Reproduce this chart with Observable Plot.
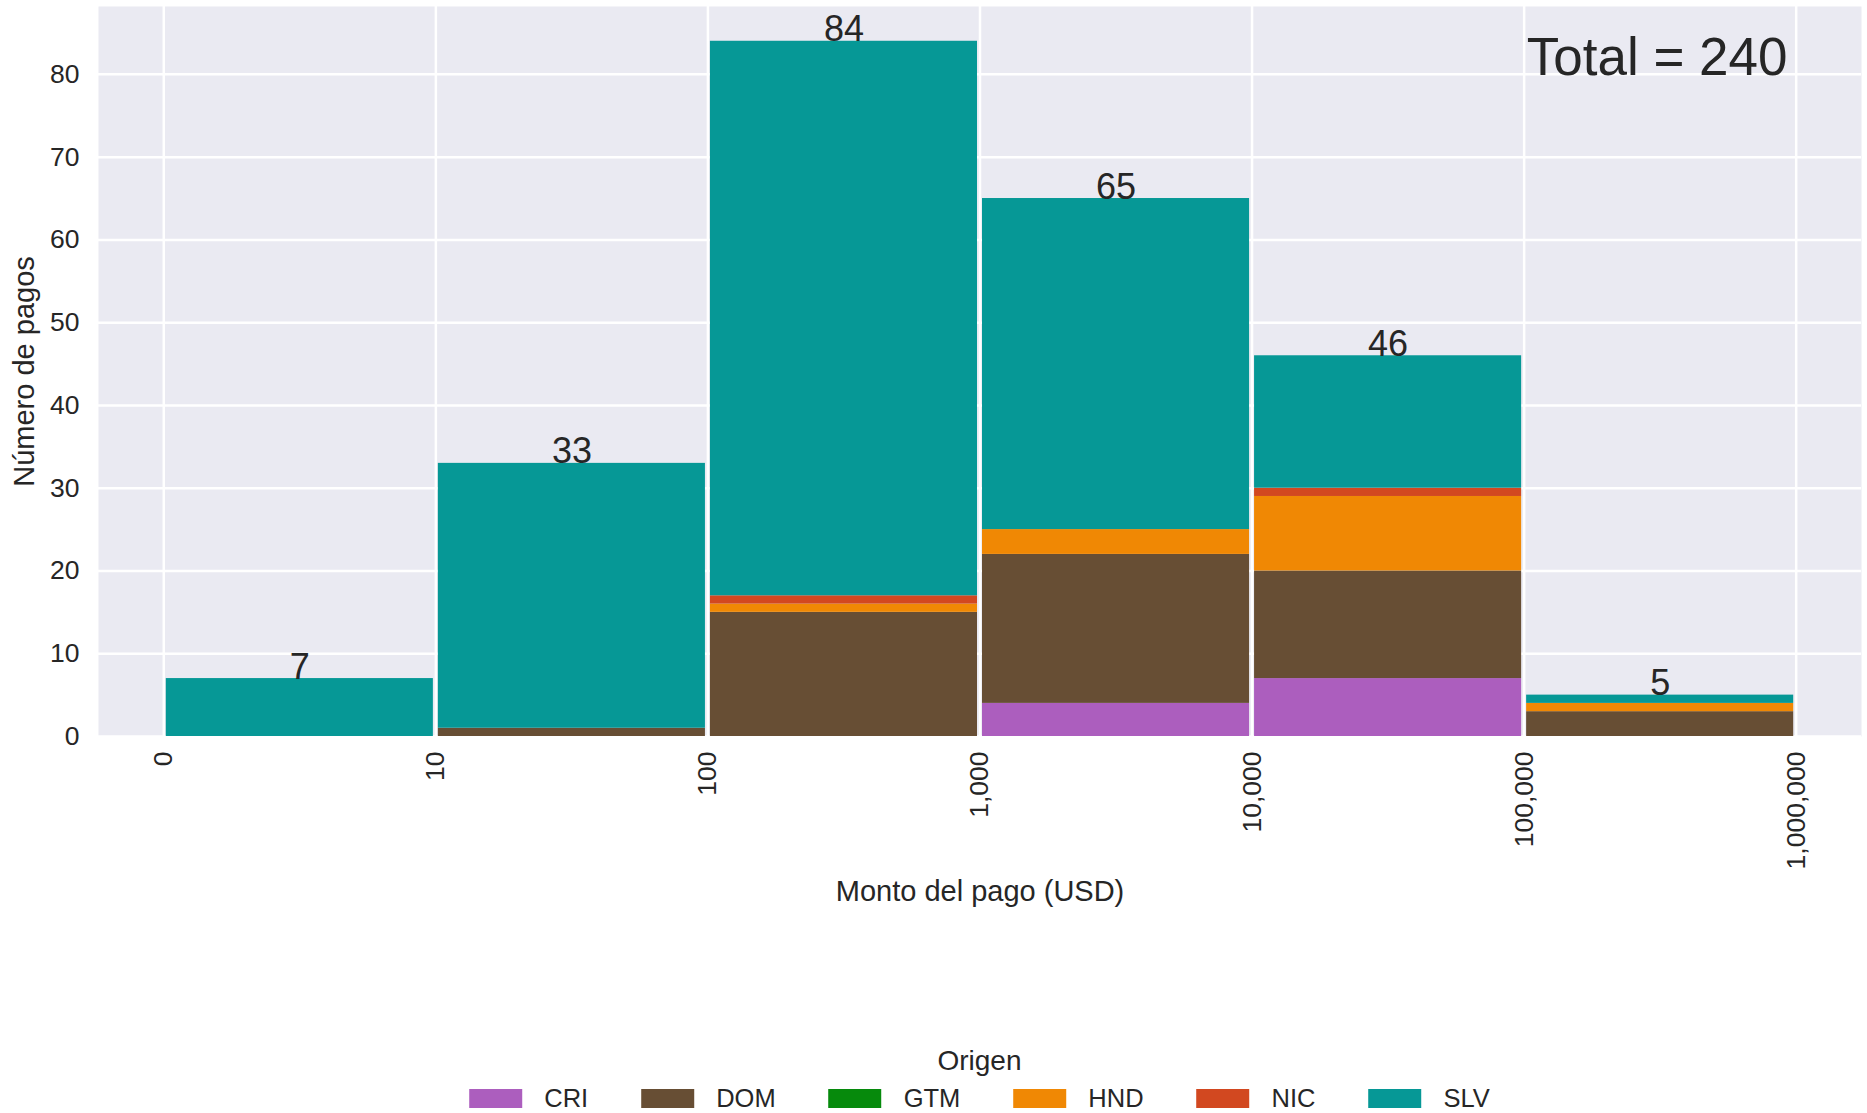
<!DOCTYPE html>
<html>
<head>
<meta charset="utf-8">
<script src="https://cdn.jsdelivr.net/npm/d3@7"></script>
<script src="https://cdn.jsdelivr.net/npm/@observablehq/plot@0.6"></script>
<style>
  html, body { margin: 0; padding: 0; background: #fff; }
  #wrap { position: relative; width: 1867px; height: 1113px; font-family: "Liberation Sans", Arial, sans-serif; color: #262626; }
  #legend { position: absolute; left: 0; top: 1030px; width: 1867px; height: 83px; }
  #legend .title { position: absolute; left: 979.5px; transform: translateX(-50%); top: 15px; white-space: nowrap; font-size: 28px; line-height: 32px; }
  #legend .items { position: absolute; left: 979.5px; transform: translateX(-50%); top: 52px; display: flex; align-items: center; height: 32px; white-space: nowrap; }
  #legend .item { display: flex; align-items: center; margin: 0 26.5px; }
  #legend .sw { width: 53px; height: 19px; margin-right: 22px; }
  #legend .lab { font-size: 25.5px; line-height: 30px; }
</style>
</head>
<body>
<div id="wrap">
  <div id="chart"></div>
  <div id="legend"></div>
</div>
<script>
// bins in log10 units: [0,1) = 0-10, [1,2) = 10-100, ...
const binStart = [0, 1, 2, 3, 4, 5];
const tickLabels = ["0", "10", "100", "1,000", "10,000", "100,000", "1,000,000"];
const origins = ["CRI", "DOM", "GTM", "HND", "NIC", "SLV"];
const colors = ["#ac5ebe", "#674e34", "#068a0c", "#f08804", "#d24820", "#069896"];
const CRI = [0, 0, 0, 4, 7, 0];
const DOM = [0, 1, 15, 18, 13, 3];
const GTM = [0, 0, 0, 0, 0, 0];
const HND = [0, 0, 1, 3, 9, 1];
const NIC = [0, 0, 1, 0, 1, 0];
const SLV = [7, 32, 67, 40, 16, 1];
const yTicks = [0, 10, 20, 30, 40, 50, 60, 70, 80];

const series = {CRI, DOM, GTM, HND, NIC, SLV};
const rows = [];
binStart.forEach((b, i) => {
  origins.forEach(o => {
    rows.push({x1: b, x2: b + 1, origin: o, count: series[o][i]});
  });
});
const totals = binStart.map((b, i) => ({x: b + 0.5, total: origins.reduce((s, o) => s + series[o][i], 0)}));
const grand = totals.reduce((s, d) => s + d.total, 0);

const W = 1867, H = 1030;
const chart = Plot.plot({
  width: W,
  height: H,
  marginLeft: 98,
  marginRight: 6,
  marginTop: 6,
  marginBottom: H - 736,
  style: {fontFamily: "'Liberation Sans', Arial, sans-serif", fontSize: "26.5px", color: "#262626", background: "#fff"},
  x: {domain: [-0.24, 6.24], ticks: [0, 1, 2, 3, 4, 5, 6], tickFormat: i => tickLabels[i]},
  y: {domain: [0, 88.2], ticks: yTicks},
  color: {domain: origins, range: colors},
  marks: [
    Plot.frame({fill: "#eaeaf2", stroke: null}),
    Plot.gridX([0, 1, 2, 3, 4, 5, 6], {stroke: "#fff", strokeOpacity: 1, strokeWidth: 2.5}),
    Plot.gridY(yTicks, {stroke: "#fff", strokeOpacity: 1, strokeWidth: 2.5}),
    Plot.rectY(rows, {x1: "x1", x2: "x2", y: "count", fill: "origin", insetLeft: 2.5, insetRight: 2.5}),
    Plot.axisX({ticks: [0, 1, 2, 3, 4, 5, 6], tickFormat: i => tickLabels[i], tickRotate: -90, tickSize: 0, tickPadding: 15, label: null, fontSize: 26.5}),
    Plot.axisY({ticks: yTicks, tickSize: 0, tickPadding: 19, label: null, fontSize: 26.5}),
    Plot.text(totals, {x: "x", y: "total", text: d => String(d.total), lineAnchor: "bottom", fontSize: 36, fill: "#262626"}),
    Plot.text([`Total = ${grand}`], {frameAnchor: "top-right", textAnchor: "end", lineAnchor: "top", dx: -74, dy: 31, fontSize: 53, fill: "#262626"}),
    Plot.text(["Número de pagos"], {frameAnchor: "left", textAnchor: "middle", lineAnchor: "middle", rotate: -90, dx: -74, fontSize: 29, fill: "#262626"}),
    Plot.text(["Monto del pago (USD)"], {frameAnchor: "bottom", dy: 164, fontSize: 29, fill: "#262626"})
  ]
});
document.getElementById("chart").appendChild(chart);

const legend = document.getElementById("legend");
const title = document.createElement("div");
title.className = "title";
title.textContent = "Origen";
legend.appendChild(title);
const items = document.createElement("div");
items.className = "items";
origins.forEach((o, i) => {
  const it = document.createElement("div");
  it.className = "item";
  const sw = document.createElement("div");
  sw.className = "sw";
  sw.style.background = colors[i];
  const lab = document.createElement("span");
  lab.className = "lab";
  lab.textContent = o;
  it.appendChild(sw);
  it.appendChild(lab);
  items.appendChild(it);
});
legend.appendChild(items);
</script>
</body>
</html>
